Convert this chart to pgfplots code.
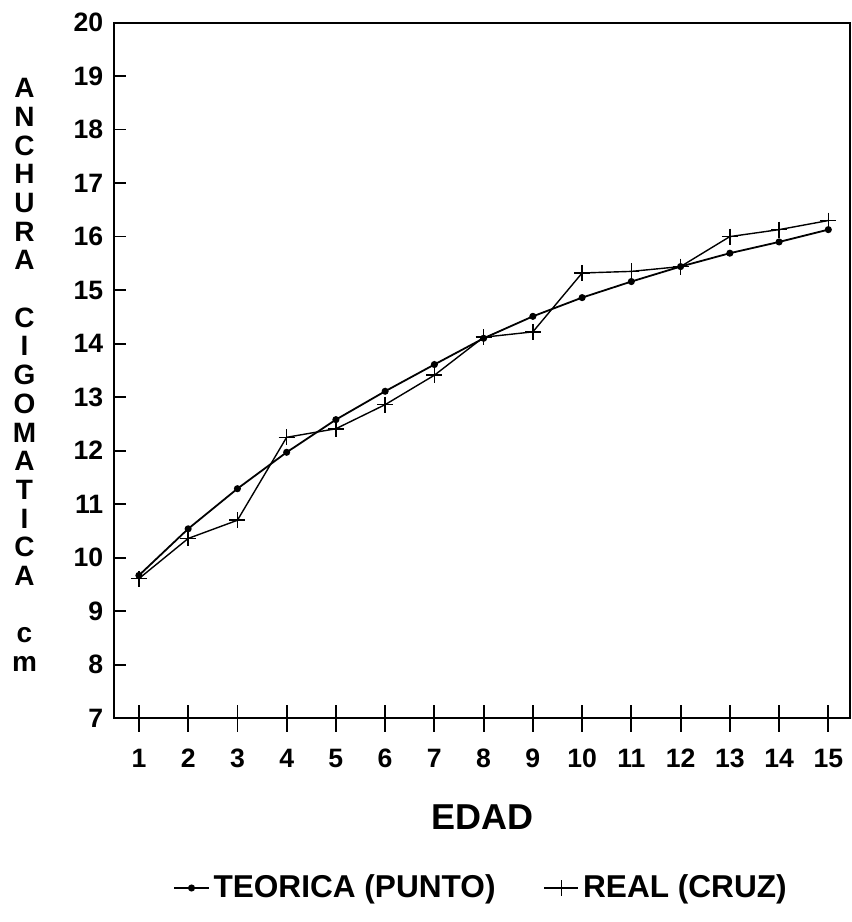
\documentclass[border=0pt]{standalone}
\usepackage{pgfplots}
\pgfplotsset{compat=1.18}
\usepackage{fontspec}
\setmainfont{Liberation Sans}
\pgfplotstableread{
x y
1 9.67
2 10.54
3 11.29
4 11.97
5 12.58
6 13.11
7 13.61
8 14.10
9 14.51
10 14.86
11 15.16
12 15.44
13 15.69
14 15.90
15 16.13
}\teorica
\pgfplotstableread{
x y
1 9.61
2 10.36
3 10.70
4 12.25
5 12.41
6 12.86
7 13.41
8 14.12
9 14.22
10 15.32
11 15.35
12 15.44
13 16.00
14 16.13
15 16.30
}\real
\begin{document}
\begin{tikzpicture}
\useasboundingbox (-57.15pt,-101.85pt) rectangle (368.85pt,359.15pt);
\begin{axis}[
  scale only axis, width=367.85pt, height=347.9pt,
  xmin=0.5, xmax=15.44, ymin=7, ymax=20,
  clip=false,
  xtick=\empty,
  ytick={7,8,...,20},
  ytick pos=left,
  tick align=inside,
  major tick length=6pt,
  tick style={black, line width=0.9pt},
  axis line style={black, line width=1pt},
  /pgf/number format/assume math mode=true,
  yticklabel style={font=\bfseries\fontsize{13.3}{14}\selectfont, xshift=-2pt},
  xlabel={EDAD},
  xlabel style={at={(axis description cs:0.5,-0.1426)}, anchor=center, font=\bfseries\fontsize{18}{20}\selectfont},
  legend columns=2,
  legend style={at={(0.5,-0.2439)}, anchor=center, draw=none, fill=none,
    font=\bfseries\fontsize{15.8}{17}\selectfont,
    /tikz/every even column/.append style={column sep=22pt}},
]
\addplot[black, line width=0.9pt, mark=*, mark size=1.3pt] table[x=x,y=y] {\teorica};
\addlegendentry{TEORICA (PUNTO)}
\addplot[black, line width=0.7pt, mark=+, mark size=4pt, mark options={line width=0.8pt}] table[x=x,y=y] {\real};
\addlegendentry{REAL (CRUZ)}
\node[align=center, font=\bfseries\fontsize{14}{14.35}\selectfont, inner sep=0pt]
  at (axis description cs:-0.1221,0.4934)
  {A\\N\\C\\H\\U\\R\\A\\[14.35pt]C\\I\\G\\O\\M\\A\\T\\I\\C\\A\\[14.35pt]c\\m};
\end{axis}
\begin{axis}[
  scale only axis, width=367.85pt, height=347.9pt,
  xmin=0.5, xmax=15.44, ymin=7, ymax=20,
  xtick={1,2,...,15},
  ytick=\empty,
  xtick pos=bottom,
  tick align=center,
  major tick length=13.5pt,
  tick style={black, line width=0.9pt},
  axis line style={draw=none},
  /pgf/number format/assume math mode=true,
  xticklabel style={font=\bfseries\fontsize{13.3}{14}\selectfont, yshift=-5pt},
]
\end{axis}
\end{tikzpicture}
\end{document}
